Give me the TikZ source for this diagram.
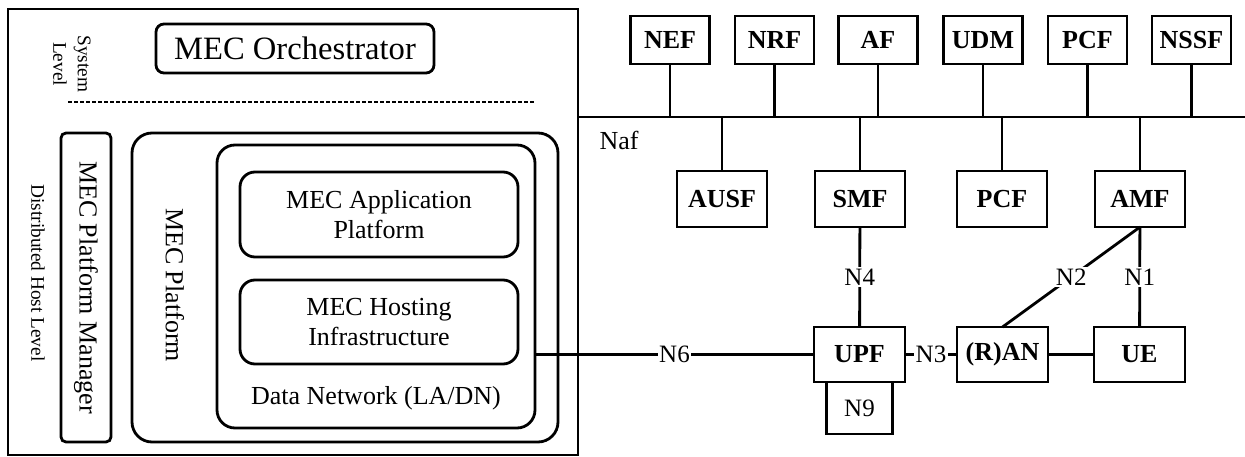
\documentclass[tikz,border=0pt]{standalone}
\usepackage{fontspec}
\setmainfont{Liberation Serif}
\begin{document}
\begin{tikzpicture}[x=1pt,y=-1pt,
  every node/.style={inner sep=0pt, outer sep=0pt},
  txt/.style={font=\fontsize{26}{30}\selectfont},
  small/.style={font=\fontsize{19.3}{24.5}\selectfont},
  rbox/.style={draw, line width=2.8pt, rounded corners=#1},
  nf/.style={draw, line width=2.8pt, minimum width=79pt, minimum height=48pt,
             font=\fontsize{26}{30}\selectfont\bfseries},
  nfl/.style={nf, minimum width=90pt, minimum height=56pt},
  nfb/.style={nf, minimum width=91pt, minimum height=55pt},
  link/.style={line width=2.8pt},
  lbl/.style={fill=white, inner sep=1.5pt, font=\fontsize{25}{30}\selectfont}]
\useasboundingbox (0,0) rectangle (1245,457);

% ---------- MEC system (left panel) ----------
\node[draw, line width=2.2pt, minimum width=570pt, minimum height=446pt] (mecsys) at (293,232) {};
\node[rbox=8pt, minimum width=278pt, minimum height=49pt,
      font=\fontsize{32.6}{36}\selectfont] (orch) at (295,48.5) {MEC Orchestrator};
\node[small, rotate=-90, align=center] (syslvl) at (72,64) {System\\Level};
\coordinate (sepL) at (68,102);
\coordinate (sepR) at (535,102);
\draw[line width=2.8pt, dash pattern=on 4pt off 2pt] (sepL) -- (sepR);

\node[small, rotate=-90] (dhl) at (38,273) {Distributed Host Level};
\node[rbox=5pt, rotate=-90, minimum width=309pt, minimum height=50pt, txt] (pm)
      at (86,287.5) {MEC Platform Manager};
\node[rbox=20pt, minimum width=426pt, minimum height=309pt] (mp) at (345,287.5) {};
\node[txt, rotate=-90] (mplbl) at (175,285) {MEC Platform};
\node[rbox=18pt, minimum width=318pt, minimum height=283pt] (dn) at (376,286.5) {};
\node[rbox=15pt, minimum width=278pt, minimum height=85pt, txt, align=center] (app)
      at (379,214.5) {MEC Application\\Platform};
\node[rbox=15pt, minimum width=278pt, minimum height=84pt, txt, align=center] (hosting)
      at (379,322) {MEC Hosting\\Infrastructure};
\node[txt] (dnlbl) at (376,398) {Data Network (LA/DN)};

% ---------- 5G core (right panel) ----------
\coordinate (busL) at (579,117);
\coordinate (busR) at (1245,117);
\draw[link] (busL) -- (busR);
\node[txt] (naf) at (619,140) {Naf};

\node[nf] (nef)  at (670,40)    {NEF};
\node[nf] (nrf)  at (774.5,40)  {NRF};
\node[nf] (af)   at (878,40)    {AF};
\node[nf] (udm)  at (983,40)    {UDM};
\node[nf] (pcfa) at (1087.5,40) {PCF};
\node[nf] (nssf) at (1191.5,40) {NSSF};
\foreach \n in {nef,nrf,af,udm,pcfa,nssf}
  \draw[link] (\n.south) -- (\n.south |- busL);

\node[nfl] (ausf) at (722,199)  {AUSF};
\node[nfl] (smf)  at (860,199)  {SMF};
\node[nfl] (pcfb) at (1002,199) {PCF};
\node[nfl] (amf)  at (1140,199) {AMF};
\foreach \n in {ausf,smf,pcfb,amf}
  \draw[link] (\n.north) -- (\n.north |- busL);

\node[nfb] (upf) at (859.5,354.5)  {UPF};
\node[nfb] (ran) at (1002.5,354.5) {(R)AN};
\node[nfb] (ue)  at (1139.5,354.5) {UE};
\node[draw, line width=2.2pt, minimum width=66pt, minimum height=52pt, anchor=north,
      font=\fontsize{25}{30}\selectfont] (n9) at (upf.south) {N9};

\draw[link] (dn.east |- upf.west) -- node[lbl] {N6} (upf.west);
\draw[link] (upf) -- node[lbl] {N3} (ran);
\draw[link] (ran) -- (ue);
\draw[link] (smf) -- node[lbl] {N4} (upf);
\draw[link] (amf.south) -- node[lbl] {N2} (ran.north);
\draw[link] (amf) -- node[lbl] {N1} (ue);
\end{tikzpicture}
\end{document}
